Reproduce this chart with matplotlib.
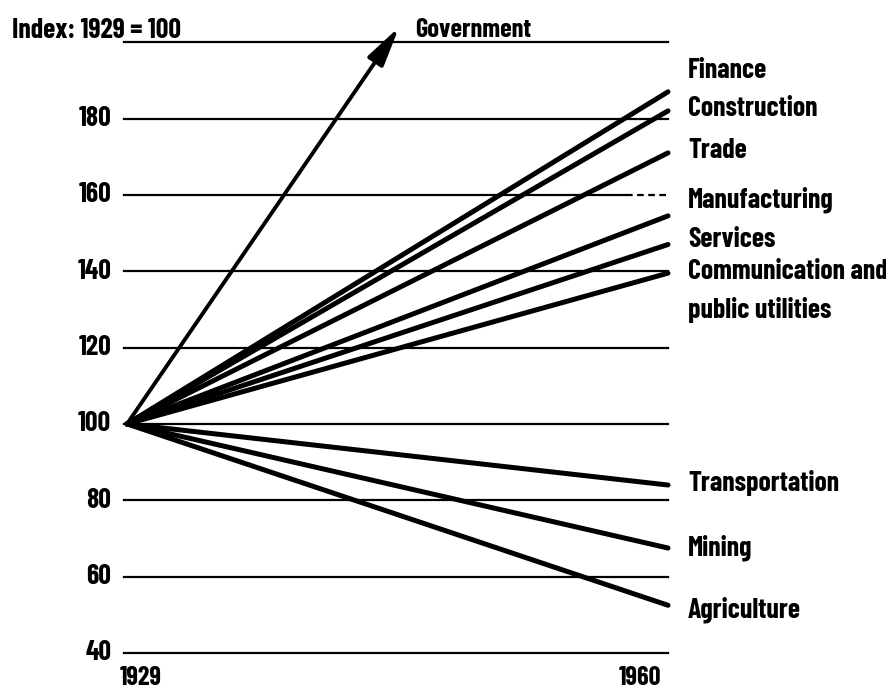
import matplotlib
matplotlib.use('Agg')
import matplotlib.pyplot as plt

# index, 1929 = 100
years = [1929, 1960]
sectors = ['Finance', 'Construction', 'Trade', 'Manufacturing', 'Services',
           'Communication', 'Transportation', 'Mining', 'Agriculture']
end_values = [187, 182, 171, 154.5, 147, 139.5, 84, 67.5, 52.5]
# government runs off the top, drawn as an arrow
gov_year = 1944.6
gov_value = 204

grid_values = [40, 60, 80, 100, 120, 140, 160, 180, 200]
tick_labels = ['40', '60', '80', '100', '120', '140', '160', '180', '']

label_texts = ['Finance', 'Construction', 'Trade', 'Manufacturing', 'Services',
               'Communication and', 'public utilities', 'Transportation', 'Mining',
               'Agriculture']
label_y = [192.7, 182.5, 171.5, 158.6, 148.2, 139.8, 129.8, 84.5, 67.5, 51.3]

plt.rcParams['font.family'] = ['Barlow Condensed', 'DejaVu Sans']
plt.rcParams['font.weight'] = 700

W, H = 886, 694
fig = plt.figure(figsize=(W / 100, H / 100), dpi=100)
# pixel box: 1929 at x=127, 1960 at x=668, 40 at y=653, 210 at y=4
ax = fig.add_axes([127 / W, 1 - 653 / H, (668 - 127) / W, (653 - 4) / H])
ax.set_xlim(1929, 1960)
ax.set_ylim(40, 210)
ax.axis('off')

# horizontal grid lines
for v in grid_values:
    if v == 160:
        ax.plot([1928.8, 1957.6], [v, v], color='black', lw=1.6, clip_on=False)
        ax.plot([1957.6, 1960], [v, v], color='black', lw=1.6, ls=(0, (3, 2)), clip_on=False)
    else:
        ax.plot([1928.8, 1960], [v, v], color='black', lw=1.6, clip_on=False)

for v, t in zip(grid_values, tick_labels):
    ax.text(1928.1, v, t, ha='right', va='center', fontsize=20, clip_on=False)

# sector lines
for name, end in zip(sectors, end_values):
    ax.plot(years, [100, end], color='black', lw=3.6, solid_capstyle='round', clip_on=False)

ax.annotate('', xy=(gov_year, gov_value), xytext=(1929, 100),
            arrowprops=dict(arrowstyle='-|>,head_length=2.4,head_width=0.55',
                            color='black', lw=2.8, shrinkA=0, shrinkB=0),
            annotation_clip=False)
ax.text(1945.5, 203.2, 'Government', ha='left', va='center', fontsize=19, clip_on=False)

for t, y in zip(label_texts, label_y):
    ax.text(1961.15, y, t, ha='left', va='center', fontsize=20, clip_on=False)

ax.text(1928.6, 36.5, '1929', ha='left', va='top', fontsize=19, clip_on=False)
ax.text(1959.6, 36.5, '1960', ha='right', va='top', fontsize=19, clip_on=False)
fig.text(12 / W, 1 - 30 / H, 'Index: 1929 = 100', ha='left', va='center', fontsize=20)

fig.savefig('out.png', dpi=100)
